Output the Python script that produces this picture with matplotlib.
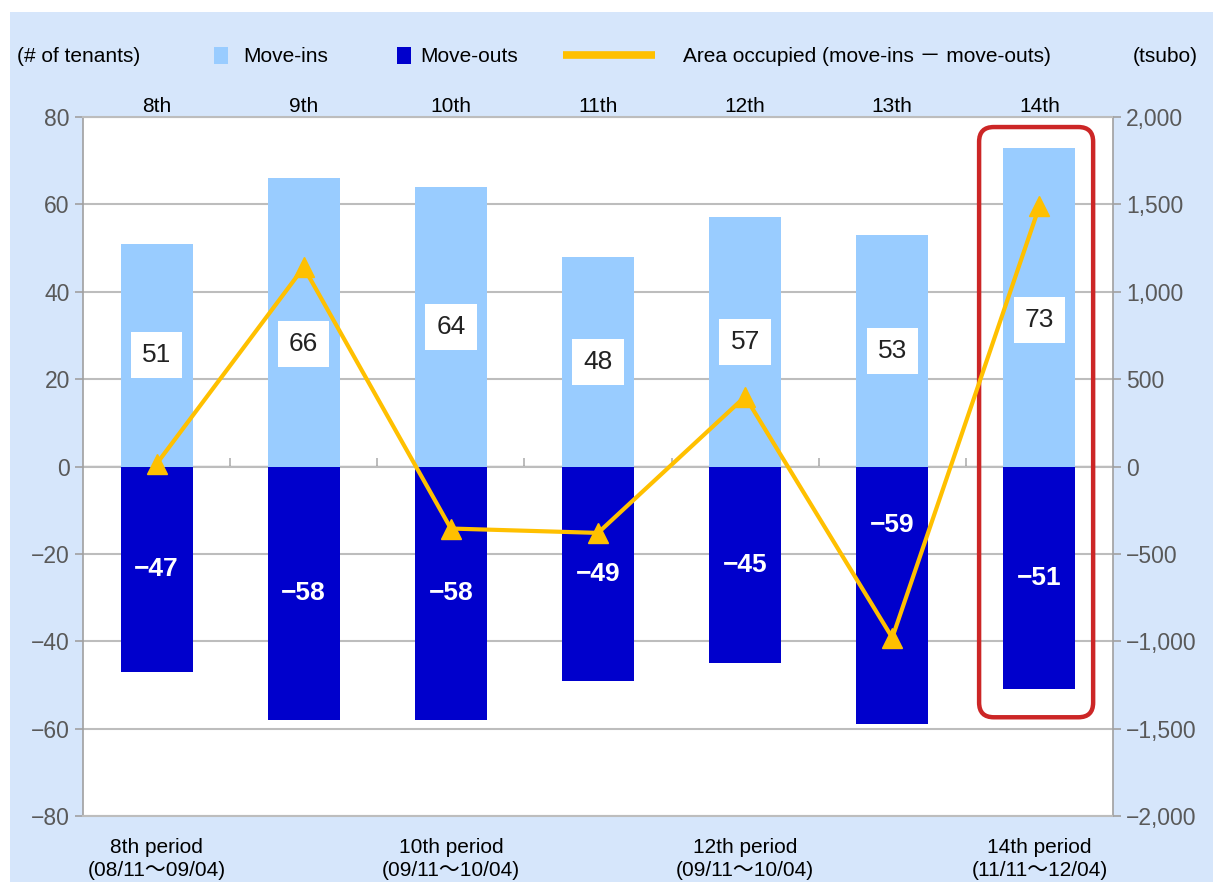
import numpy as np
import matplotlib
matplotlib.use('Agg')
import matplotlib.pyplot as plt
from matplotlib.patches import Rectangle, FancyBboxPatch
from matplotlib.lines import Line2D
from matplotlib.ticker import FuncFormatter

plt.rcParams['font.family'] = ['Liberation Sans', 'Noto Sans CJK JP', 'DejaVu Sans']

# data
periods = ['8th', '9th', '10th', '11th', '12th', '13th', '14th']
move_ins = [51, 66, 64, 48, 57, 53, 73]
move_outs = [-47, -58, -58, -49, -45, -59, -51]
area_occupied = [15, 1140, -355, -380, 400, -980, 1490]   # tsubo
period_ticks = [0, 2, 4, 6]
period_labels = ['8th period\n(08/11～09/04)', '10th period\n(09/11～10/04)',
                 '12th period\n(09/11～10/04)', '14th period\n(11/11～12/04)']

light_blue = '#99ccff'
dark_blue = '#0000cc'
gold = '#ffc000'
tick_gray = '#595959'
bg_blue = '#d6e6fb'

W, H = 1213, 882
fig = plt.figure(figsize=(W / 100, H / 100), dpi=100)
fig.patch.set_facecolor('white')
# light blue panel behind everything
fig.add_artist(Rectangle((10 / W, 0), 1, 1 - 12 / H, transform=fig.transFigure,
                         facecolor=bg_blue, edgecolor='none', zorder=-10))

def fx(px):
    return px / W

def fy(py):
    return 1 - py / H

ax = fig.add_axes([fx(83), fy(816), (1113 - 83) / W, (816 - 117) / H])
ax.set_facecolor('white')
x = np.arange(len(periods))

ax.bar(x, move_ins, width=0.49, color=light_blue, zorder=2)
ax.bar(x, move_outs, width=0.49, color=dark_blue, zorder=2)

ax.set_xlim(-0.5, len(periods) - 0.5)
ax.set_ylim(-80, 80)
ax.set_yticks(np.arange(-80, 81, 20))
ax.yaxis.grid(True, color='#bdbdbd', linewidth=1.5, zorder=0)
ax.set_axisbelow(True)
ax.tick_params(axis='y', colors='#a0a0a0', labelcolor=tick_gray, labelsize=16.5,
               length=6, width=1.2, direction='out')
for s in ['left', 'right']:
    ax.spines[s].set_color('#a0a0a0')
    ax.spines[s].set_linewidth(1.2)
for s in ['top', 'bottom']:
    ax.spines[s].set_color('#bdbdbd')
    ax.spines[s].set_linewidth(1.5)

# category labels on top
ax.xaxis.tick_top()
ax.set_xticks(x)
ax.set_xticklabels(periods, fontsize=15)
ax.tick_params(axis='x', length=0, pad=1)

# zero line with boundary ticks
zero_ax = ax.secondary_xaxis(0.5)
zero_ax.set_xticks(x[:-1] + 0.5)
zero_ax.set_xticklabels([])
zero_ax.tick_params(length=6, width=1.2, colors='#b0b0b0')
zero_ax.spines['bottom'].set_color('#a0a0a0')
zero_ax.spines['bottom'].set_linewidth(1.5)

# period labels below
per_ax = ax.secondary_xaxis('bottom')
per_ax.set_xticks(period_ticks)
per_ax.set_xticklabels(period_labels, fontsize=15, linespacing=1.25)
per_ax.tick_params(length=0, pad=16)
per_ax.spines['bottom'].set_visible(False)

# value labels
ins_offset = {1: -5, 6: -3}
for i, v in enumerate(move_ins):
    ax.text(i, v / 2 + ins_offset.get(i, 0), str(v), ha='center', va='center',
            fontsize=19, color='#222222', zorder=5,
            bbox=dict(boxstyle='square,pad=0.42', facecolor='white', edgecolor='none'))
outs_offset = {5: 16}
for i, v in enumerate(move_outs):
    ax.text(i, v / 2 + outs_offset.get(i, 0), '\u2212' + str(abs(v)), ha='center',
            va='center', fontsize=19, color='white', fontweight='bold', zorder=5)

# right axis: area occupied
ax2 = ax.twinx()
ax2.set_ylim(-2000, 2000)
ax2.set_yticks(np.arange(-2000, 2001, 500))
ax2.yaxis.set_major_formatter(FuncFormatter(
    lambda v, p: ('\u2212' if v < 0 else '') + f'{abs(int(v)):,}'))
ax2.tick_params(axis='y', colors='#a0a0a0', labelcolor=tick_gray, labelsize=16.5,
                length=6, width=1.2, direction='out')
for s in ax2.spines.values():
    s.set_visible(False)
ax2.plot(x, area_occupied, color=gold, linewidth=3, marker='^', markersize=15,
         zorder=6)

# highlight box around 14th period
ax.add_patch(FancyBboxPatch((5.59, -57.4), 0.775, 135.1,
                            boxstyle='round,pad=0,rounding_size=0.1',
                            mutation_aspect=33.6, facecolor='none',
                            edgecolor='#cc2626', linewidth=3.2, zorder=7,
                            clip_on=False))

# legend row
fs = 15
fig.text(fx(17), fy(56), '(# of tenants)', fontsize=fs, va='center')
fig.add_artist(Rectangle((fx(214), fy(64)), 14 / W, 17 / H, transform=fig.transFigure,
                         facecolor=light_blue, edgecolor='none'))
fig.text(fx(243), fy(56), 'Move-ins', fontsize=fs, va='center')
fig.add_artist(Rectangle((fx(397), fy(64)), 14 / W, 17 / H, transform=fig.transFigure,
                         facecolor=dark_blue, edgecolor='none'))
fig.text(fx(420), fy(56), 'Move-outs', fontsize=fs, va='center')
fig.add_artist(Line2D([fx(563), fx(655)], [fy(55), fy(55)], transform=fig.transFigure,
                      color=gold, linewidth=5.5, solid_capstyle='butt'))
fig.text(fx(683), fy(56), 'Area occupied (move-ins \uff0d move-outs)', fontsize=fs,
         va='center')
fig.text(fx(1198), fy(56), '(tsubo)', fontsize=fs, va='center', ha='right')

fig.savefig('out.png', dpi=100)
